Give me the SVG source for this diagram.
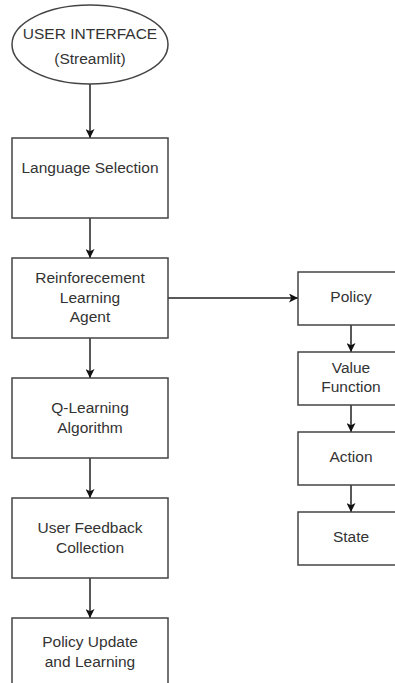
<svg xmlns="http://www.w3.org/2000/svg" width="395" height="683" viewBox="0 0 395 683">
<style>
.box{fill:#fff;stroke:#444;stroke-width:1.5}
.t{font-family:"Liberation Sans",Arial,sans-serif;font-size:15.5px;fill:#333;text-anchor:middle}
.c{fill:none;stroke:#222;stroke-width:1.5}
</style>
<defs>
<marker id="ah" viewBox="0 0 10 10" refX="10" refY="5" markerWidth="9" markerHeight="9" markerUnits="userSpaceOnUse" orient="auto">
<path d="M0,0 L10,5 L0,10 L2.5,5 Z" fill="#111"/>
</marker>
</defs>
<rect width="395" height="683" fill="#fff"/>
<g id="connectors">
<line class="c" x1="90" y1="84" x2="90" y2="138" marker-end="url(#ah)"/>
<line class="c" x1="90" y1="218" x2="90" y2="258" marker-end="url(#ah)"/>
<line class="c" x1="90" y1="338" x2="90" y2="378" marker-end="url(#ah)"/>
<line class="c" x1="90" y1="458" x2="90" y2="498" marker-end="url(#ah)"/>
<line class="c" x1="90" y1="578" x2="90" y2="618" marker-end="url(#ah)"/>
<line class="c" x1="168" y1="298" x2="298" y2="298" marker-end="url(#ah)"/>
<line class="c" x1="351" y1="325" x2="351" y2="352" marker-end="url(#ah)"/>
<line class="c" x1="351" y1="405" x2="351" y2="432" marker-end="url(#ah)"/>
<line class="c" x1="351" y1="485" x2="351" y2="512" marker-end="url(#ah)"/>
</g>
<g id="ui">
<ellipse class="box" cx="90" cy="44.5" rx="78" ry="39.5"/>
<text class="t" x="90" y="39">USER INTERFACE</text>
<text class="t" x="90" y="64">(Streamlit)</text>
</g>
<g id="language">
<rect class="box" x="12" y="138" width="156" height="80"/>
<text class="t" x="90" y="173">Language Selection</text>
</g>
<g id="rl-agent">
<rect class="box" x="12" y="258" width="156" height="80"/>
<text class="t" x="90" y="283">Reinforecement</text>
<text class="t" x="90" y="303">Learning</text>
<text class="t" x="90" y="322">Agent</text>
</g>
<g id="qlearning">
<rect class="box" x="12" y="378" width="156" height="80"/>
<text class="t" x="90" y="413">Q-Learning</text>
<text class="t" x="90" y="433">Algorithm</text>
</g>
<g id="feedback">
<rect class="box" x="12" y="498" width="156" height="80"/>
<text class="t" x="90" y="533">User Feedback</text>
<text class="t" x="90" y="553">Collection</text>
</g>
<g id="policy-update">
<rect class="box" x="12" y="618" width="156" height="80"/>
<text class="t" x="90" y="647">Policy Update</text>
<text class="t" x="90" y="667">and Learning</text>
</g>
<g id="policy">
<rect class="box" x="298" y="272" width="106" height="53"/>
<text class="t" x="351" y="302">Policy</text>
</g>
<g id="value-function">
<rect class="box" x="298" y="352" width="106" height="53"/>
<text class="t" x="351" y="373">Value</text>
<text class="t" x="351" y="392">Function</text>
</g>
<g id="action">
<rect class="box" x="298" y="432" width="106" height="53"/>
<text class="t" x="351" y="462">Action</text>
</g>
<g id="state">
<rect class="box" x="298" y="512" width="106" height="53"/>
<text class="t" x="351" y="542">State</text>
</g>
</svg>
